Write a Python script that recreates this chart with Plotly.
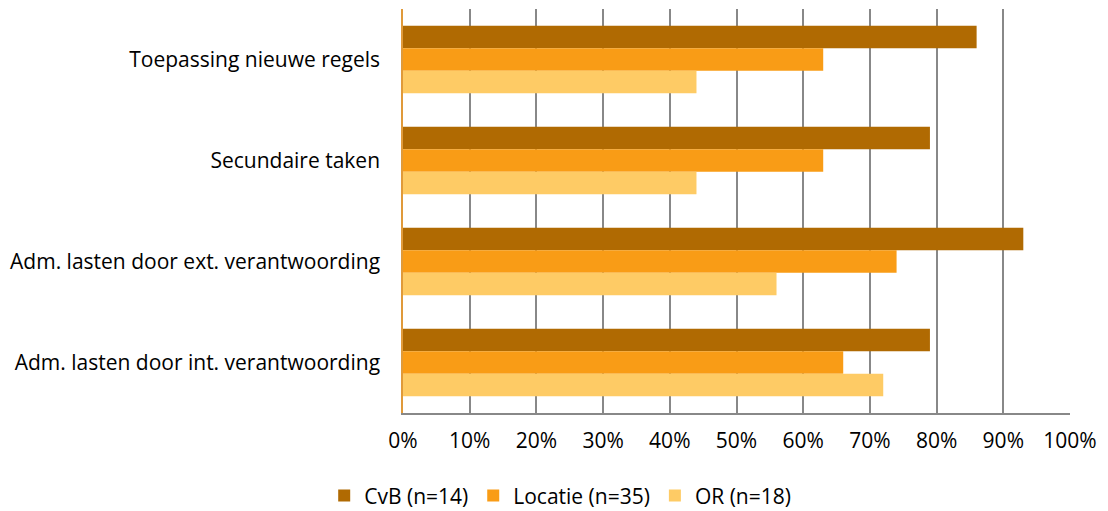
import plotly.graph_objects as go

categories = ["Toepassing nieuwe regels", "Secundaire taken",
              "Adm. lasten door ext. verantwoording", "Adm. lasten door int. verantwoording"]
series_names = ["CvB (n=14)", "Locatie (n=35)", "OR (n=18)"]
cvb = [0.86, 0.79, 0.93, 0.79]
locatie = [0.63, 0.63, 0.74, 0.66]
orr = [0.44, 0.44, 0.56, 0.72]
colors = ["#B06A02", "#F99C16", "#FECB65"]
tick_vals = [i / 10 for i in range(11)]
tick_text = [f"{i*10}%" for i in range(11)]

fig = go.Figure()
for name, vals, col in zip(series_names, [cvb, locatie, orr], colors):
    fig.add_trace(go.Bar(y=categories, x=vals, name=name, orientation="h",
                         marker=dict(color=col, line=dict(width=0))))

# page body has an 8px margin, so the figure is drawn 8px in from the window edge
fig.update_layout(
    width=1100, height=503,
    margin=dict(l=395, r=38, t=1, b=98),
    paper_bgcolor="white", plot_bgcolor="white",
    barmode="group", bargap=0.33, bargroupgap=0,
    font=dict(family="Open Sans, sans-serif", size=21, color="#000000"),
    legend=dict(orientation="h", xref="container", x=0.502, xanchor="center",
                yref="container", y=0.03, yanchor="middle",
                font=dict(size=21), traceorder="normal"),
    xaxis=dict(range=[0, 1], tickvals=tick_vals, ticktext=tick_text,
               showgrid=True, gridcolor="#888888", gridwidth=1.5,
               showline=True, linecolor="#888888", linewidth=1.5, mirror=False,
               zeroline=False, ticks="", ticklabelstandoff=8, fixedrange=True,
               automargin=False),
    yaxis=dict(autorange="reversed", showgrid=False, showline=True,
               linecolor="#E09A3A", linewidth=1.5, ticks="", ticklabelstandoff=17,
               zeroline=False, automargin=False),
)
fig.write_html("out.html")
